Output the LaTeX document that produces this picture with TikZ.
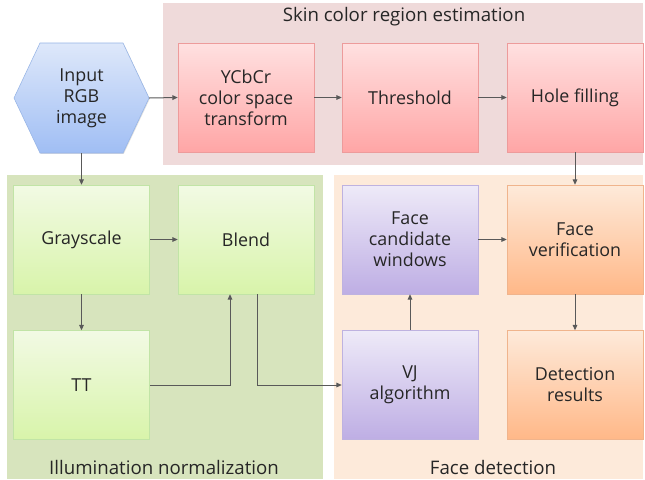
\documentclass[tikz,border=0pt]{standalone}
\usepackage{fontspec}
\setmainfont{Open Sans}
\usetikzlibrary{arrows.meta,shapes.geometric,shadows}
\definecolor{pinkpanel}{HTML}{EFDADA}
\definecolor{greenpanel}{HTML}{D7E4BD}
\definecolor{orangepanel}{HTML}{FDEADA}
\definecolor{linegray}{HTML}{595959}
\definecolor{txt}{HTML}{262626}
\begin{document}
\begin{tikzpicture}[x=0.75pt,y=-0.75pt,
  every node/.style={font=\fontsize{13.4}{15.75}\selectfont, text=txt, align=center},
  boxbase/.style={rectangle, minimum width=102pt, minimum height=81.75pt, inner sep=1pt,
    drop shadow={shadow xshift=0.6pt, shadow yshift=-0.6pt, opacity=0.25}},
  redbox/.style={boxbase, draw=red!35!pink!90!black!70, top color=red!12!white, bottom color=red!35!white},
  greenbox/.style={boxbase, draw=green!40!olive!35!white, top color={rgb,255:red,242;green,250;blue,228}, bottom color={rgb,255:red,216;green,244;blue,170}},
  purplebox/.style={boxbase, draw={rgb,255:red,190;green,178;blue,224}, top color={rgb,255:red,238;green,234;blue,248}, bottom color={rgb,255:red,190;green,174;blue,228}},
  orangebox/.style={boxbase, draw={rgb,255:red,240;green,180;blue,140}, top color={rgb,255:red,254;green,234;blue,218}, bottom color={rgb,255:red,255;green,184;blue,136}},
  hexfill/.style={draw={rgb,255:red,150;green,180;blue,230}, top color={rgb,255:red,222;green,232;blue,250}, bottom color={rgb,255:red,160;green,190;blue,244},
    drop shadow={shadow xshift=0.6pt, shadow yshift=-0.6pt, opacity=0.25}},
  conn/.style={draw=linegray, line width=0.75pt, -{Triangle[length=4pt,width=3.5pt]}},
  title/.style={font=\fontsize{14}{16}\selectfont}
]
\useasboundingbox (0,0) rectangle (645,479);
\fill[white] (0,0) rectangle (645,479);
% panels
\fill[pinkpanel] (163,3) rectangle (643,165);
\fill[greenpanel] (7,175) rectangle (323,479);
\fill[orangepanel] (334,175) rectangle (643,479);
\node[title] (t1) at (404,17) {Skin color region estimation};
\node[title] (t2) at (164,467) {Illumination normalization};
\node[title] (t3) at (493,467) {Face detection};
% hexagon
\path[hexfill] (14,98) -- (40,43) -- (123,43) -- (149,98) -- (123,153) -- (40,153) -- cycle;
\node[minimum width=101.25pt, minimum height=82.5pt, inner sep=0pt, outer sep=0pt] (in) at (81.5,98) {Input\\RGB\\image};
% nodes
\node[redbox] (ycc) at (246,97.5) {YCbCr\\color space\\transform};
\node[redbox] (thr) at (410,97.5) {Threshold};
\node[redbox] (hole) at (575,97.5) {Hole filling};
\node[greenbox] (gray) at (81.5,239.5) {Grayscale};
\node[greenbox] (blend) at (246,239.5) {Blend};
\node[greenbox] (tt) at (81.5,385) {TT};
\node[purplebox] (cand) at (410,239.5) {Face\\candidate\\windows};
\node[orangebox] (ver) at (575,239.5) {Face\\verification};
\node[purplebox] (vj) at (410,385) {VJ\\algorithm};
\node[orangebox] (det) at (575,385) {Detection\\results};
% connectors
\draw[conn] (in.east) -- (ycc.west);
\draw[conn] (ycc) -- (thr);
\draw[conn] (thr) -- (hole);
\draw[conn] (hole) -- (ver);
\draw[conn] (in.south) -- (gray.north);
\draw[conn] (gray) -- (blend);
\draw[conn] (gray) -- (tt);
\draw[conn] (tt.east) -| ([xshift=-12pt]blend.south);
\coordinate (bout) at (257,294);
\draw[conn] (bout) |- (vj.west);
\draw[conn] (vj) -- (cand);
\draw[conn] (cand) -- (ver);
\draw[conn] (ver) -- (det);
\end{tikzpicture}
\end{document}
